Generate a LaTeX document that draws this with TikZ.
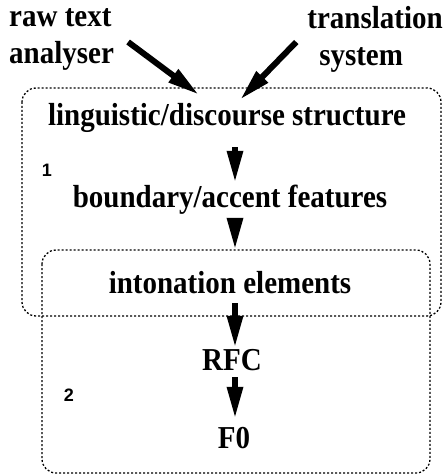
\documentclass[tikz,border=0pt]{standalone}
\usepackage{fontspec}
\setmainfont{Liberation Serif}
\newfontfamily\numfont{Liberation Sans}
\usetikzlibrary{arrows.meta}

\begin{document}
\begin{tikzpicture}[
    x=1pt, y=-1pt,
    level/.style={inner sep=0pt, text height=20pt, text depth=0pt, anchor=base,
        yscale=1.1, transform shape, font=\fontsize{29}{34}\selectfont\bfseries},
    source/.style={inner sep=0pt, yscale=1.1, transform shape,
        font=\fontsize{29}{34}\selectfont\bfseries},
    tag/.style={inner sep=0pt, font=\fontsize{18}{20}\selectfont\numfont\bfseries},
    stage/.style={draw, line width=1.3pt, dash pattern=on 2pt off 2pt, rounded corners=14pt},
    arrow/.style={-{Triangle[length=32pt, width=15pt]}, line width=6pt}
]
\useasboundingbox (0,0) rectangle (443,476);
% stages
\draw[stage] (22,88) rectangle (441,316);
\draw[stage] (42,250) rectangle (430,473);
\node[tag] (one) at (47,170) {1};
\node[tag] (two) at (69,395) {2};
% inputs
\node[source, align=left, anchor=north west] (raw) at (9,8) {raw text\\analyser};
\node[source, align=center, anchor=north east] (trans) at (443,6) {translation\\system\hspace*{28pt}};
% levels
\coordinate (axis) at (235,0);
\node[level] (ling) at (227,125) {linguistic/discourse structure};
\node[level] (bound) at (230,207) {boundary/accent features};
\node[level] (inton) at (230,293) {intonation elements};
\node[level] (rfc) at (232,370) {RFC};
\node[level] (fzero) at (234,448) {F0};
% arrows
\draw[arrow] ([shift={(14,34)}]raw.north east) -- ([shift={(-28,-8)}]ling.north);
\draw[arrow] ([shift={(-11,36)}]trans.north west) -- ([shift={(13,-3)}]ling.north);
\draw[arrow, shorten <=22pt, shorten >=2pt] (ling.south -| axis) -- (bound.north -| axis);
\draw[arrow, shorten <=11pt, shorten >=21pt] (bound.south -| axis) -- (inton.north -| axis);
\draw[arrow, shorten <=10pt] (inton.south -| axis) -- (rfc.north -| axis);
\draw[arrow, shorten <=7pt, shorten >=7pt] (rfc.south -| axis) -- (fzero.north -| axis);
\end{tikzpicture}
\end{document}
